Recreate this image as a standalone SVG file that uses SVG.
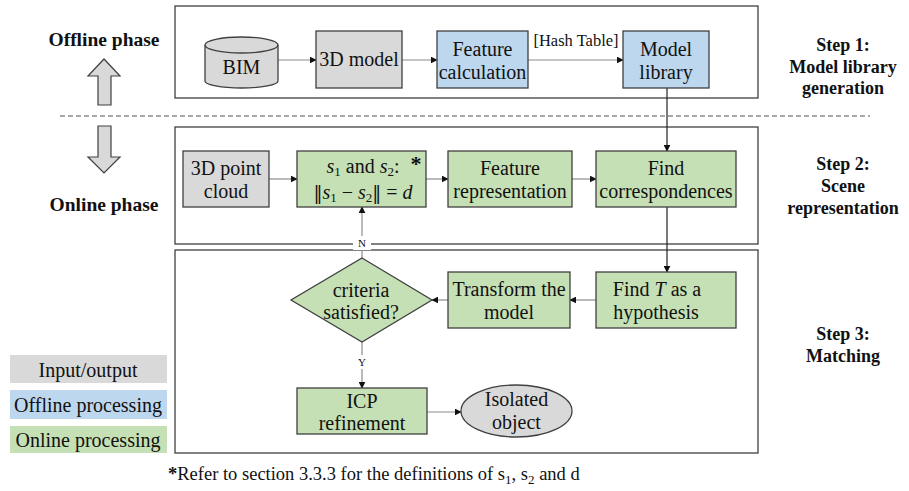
<svg xmlns="http://www.w3.org/2000/svg" width="909" height="491" viewBox="0 0 909 491" font-family="'Liberation Serif', 'DejaVu Serif', serif">
  <style>
    text { font-family: "Liberation Serif", "DejaVu Serif", serif; fill: #111; }
    .t { font-size: 20px; text-anchor: middle; }
    .h { font-size: 18px; font-weight: bold; text-anchor: middle; }
    .ph { font-size: 19.5px; font-weight: bold; text-anchor: middle; }
    .lg { font-size: 20px; text-anchor: middle; }
    .lab { font-size: 11px; text-anchor: middle; }
    .frame { fill: #fff; stroke: #404040; stroke-width: 1.3; }
    .io { fill: #d9d9d9; stroke: #404040; stroke-width: 1.3; }
    .off { fill: #bdd7ee; stroke: #404040; stroke-width: 1.3; }
    .on { fill: #c5e0b4; stroke: #404040; stroke-width: 1.3; }
    .link { fill: none; stroke: #8c8c8c; stroke-width: 1.2; marker-end: url(#tip); }
    .dark { fill: none; stroke: #222; stroke-width: 1.2; marker-end: url(#tip); }
    .bigarrow { fill: #d9d9d9; stroke: #404040; stroke-width: 1.2; }
    .it { font-style: italic; }
    .norm { font-family: "DejaVu Serif", serif; font-size: 18px; }
  </style>
  <defs>
    <marker id="tip" viewBox="0 0 10 10" refX="9" refY="5" markerWidth="7" markerHeight="7" markerUnits="userSpaceOnUse" orient="auto">
      <path d="M0,0 L10,5 L0,10 z" fill="#111"/>
    </marker>
  </defs>

  <!-- step frames -->
  <g id="frames">
    <rect class="frame" x="175" y="6" width="583" height="92"/>
    <rect class="frame" x="175" y="127" width="583" height="117"/>
    <rect class="frame" x="175" y="250" width="583" height="203"/>
    <line x1="60" y1="116" x2="870" y2="116" stroke="#555" stroke-width="1.2" stroke-dasharray="5,3"/>
  </g>

  <!-- phase labels and direction arrows -->
  <g id="phases">
    <text class="ph" x="104" y="46">Offline phase</text>
    <path class="bigarrow" d="M98,105 L98,76 L88,76 L104,59 L120,76 L111,76 L111,105 Z"/>
    <path class="bigarrow" d="M98,126 L98,157 L88,157 L104,173 L120,157 L111,157 L111,126 Z"/>
    <text class="ph" x="104" y="211">Online phase</text>
  </g>

  <g id="step-labels">
    <text class="h" x="843" y="51">Step 1:</text>
    <text class="h" x="843" y="73">Model library</text>
    <text class="h" x="843" y="94">generation</text>
    <text class="h" x="843" y="170">Step 2:</text>
    <text class="h" x="843" y="192">Scene</text>
    <text class="h" x="843" y="214">representation</text>
    <text class="h" x="843" y="340">Step 3:</text>
    <text class="h" x="843" y="362">Matching</text>
  </g>

  <!-- connectors -->
  <g id="connectors">
    <line class="link" x1="278" y1="60" x2="316" y2="60"/>
    <line class="link" x1="402" y1="60" x2="437" y2="60"/>
    <line class="link" x1="528" y1="60" x2="623" y2="60"/>
    <text x="576" y="46" style="font-size:16.5px;text-anchor:middle">[Hash Table]</text>
    <line class="dark" x1="667" y1="88" x2="667" y2="151"/>
    <line class="link" x1="269" y1="179" x2="297" y2="179"/>
    <line class="link" x1="426" y1="179" x2="448" y2="179"/>
    <line class="link" x1="572" y1="179" x2="596" y2="179"/>
    <line class="dark" x1="667" y1="207" x2="667" y2="272"/>
    <line class="link" x1="596" y1="300" x2="570" y2="300"/>
    <line class="link" x1="448" y1="300" x2="432" y2="300"/>
    <line class="link" x1="362" y1="258" x2="362" y2="207"/>
    <rect x="353" y="236" width="18" height="14" fill="#fff"/>
    <text class="lab" x="362" y="247">N</text>
    <line class="link" x1="362" y1="342" x2="362" y2="388"/>
    <rect x="353" y="355" width="18" height="14" fill="#fff"/>
    <text class="lab" x="362" y="366">Y</text>
    <line class="link" x1="427" y1="412" x2="461" y2="412"/>
  </g>

  <!-- step 1 nodes -->
  <g id="bim">
    <path class="io" d="M205,45 L205,81 A36.5,7 0 0 0 278,81 L278,45"/>
    <ellipse class="io" cx="241.5" cy="45" rx="36.5" ry="8"/>
    <text class="t" x="241.5" y="74">BIM</text>
  </g>
  <g id="model3d">
    <rect class="io" x="316" y="31" width="86" height="57"/>
    <text class="t" x="359" y="66">3D model</text>
  </g>
  <g id="feature-calc">
    <rect class="off" x="437" y="31" width="91" height="57"/>
    <text class="t" x="482.5" y="56">Feature</text>
    <text class="t" x="482.5" y="79">calculation</text>
  </g>
  <g id="model-library">
    <rect class="off" x="623" y="31" width="86" height="57"/>
    <text class="t" x="666" y="56">Model</text>
    <text class="t" x="666" y="79">library</text>
  </g>

  <!-- step 2 nodes -->
  <g id="point-cloud">
    <rect class="io" x="183" y="151" width="86" height="56"/>
    <text class="t" x="226" y="175">3D point</text>
    <text class="t" x="226" y="198">cloud</text>
  </g>
  <g id="sampling">
    <rect class="on" x="297" y="151" width="129" height="56"/>
    <text class="t" x="363" y="173"><tspan class="it">s</tspan><tspan font-size="13" dy="3">1</tspan><tspan dy="-3"> and </tspan><tspan class="it">s</tspan><tspan font-size="13" dy="3">2</tspan><tspan dy="-3">:</tspan></text>
    <text x="416" y="171" style="font-size:22px;font-weight:bold;text-anchor:middle">*</text>
    <text class="t" x="363" y="199"><tspan class="norm">‖</tspan><tspan class="it">s</tspan><tspan font-size="13" dy="3">1</tspan><tspan dy="-3"> − </tspan><tspan class="it">s</tspan><tspan font-size="13" dy="3">2</tspan><tspan dy="-3" class="norm">‖</tspan><tspan> = </tspan><tspan class="it">d</tspan></text>
  </g>
  <g id="feature-rep">
    <rect class="on" x="448" y="151" width="124" height="56"/>
    <text class="t" x="510" y="175">Feature</text>
    <text class="t" x="510" y="198">representation</text>
  </g>
  <g id="find-corr">
    <rect class="on" x="596" y="151" width="140" height="56"/>
    <text class="t" x="666" y="175">Find</text>
    <text class="t" x="666" y="198">correspondences</text>
  </g>

  <!-- step 3 nodes -->
  <g id="criteria">
    <polygon class="on" points="362,258 432,300 362,342 291,300"/>
    <text class="t" x="361" y="297">criteria</text>
    <text class="t" x="361" y="319">satisfied?</text>
  </g>
  <g id="transform">
    <rect class="on" x="448" y="272" width="122" height="56"/>
    <text class="t" x="509" y="296">Transform the</text>
    <text class="t" x="509" y="319">model</text>
  </g>
  <g id="find-t">
    <rect class="on" x="596" y="272" width="140" height="56"/>
    <text class="t" x="657" y="296">Find <tspan class="it">T</tspan> as a</text>
    <text class="t" x="656" y="319">hypothesis</text>
  </g>
  <g id="icp">
    <rect class="on" x="297" y="388" width="130" height="46"/>
    <text class="t" x="362" y="408">ICP</text>
    <text class="t" x="362" y="430">refinement</text>
  </g>
  <g id="isolated">
    <ellipse class="io" cx="516.5" cy="411" rx="55.5" ry="26"/>
    <text class="t" x="516.5" y="406">Isolated</text>
    <text class="t" x="516.5" y="429">object</text>
  </g>

  <!-- legend -->
  <g id="legend">
    <rect x="10" y="355" width="157" height="28" fill="#d9d9d9"/>
    <text class="lg" x="88" y="377">Input/output</text>
    <rect x="10" y="390" width="157" height="29" fill="#bdd7ee"/>
    <text class="lg" x="88" y="412">Offline processing</text>
    <rect x="10" y="426" width="157" height="27" fill="#c5e0b4"/>
    <text class="lg" x="88" y="447">Online processing</text>
  </g>

  <!-- footnote -->
  <g id="footnote">
    <text x="168" y="480" style="font-size:18.5px"><tspan font-weight="bold">*</tspan>Refer to section 3.3.3 for the definitions of s<tspan font-size="13" dy="4">1</tspan><tspan dy="-4">, s</tspan><tspan font-size="13" dy="4">2</tspan><tspan dy="-4"> and d</tspan></text>
  </g>
</svg>
